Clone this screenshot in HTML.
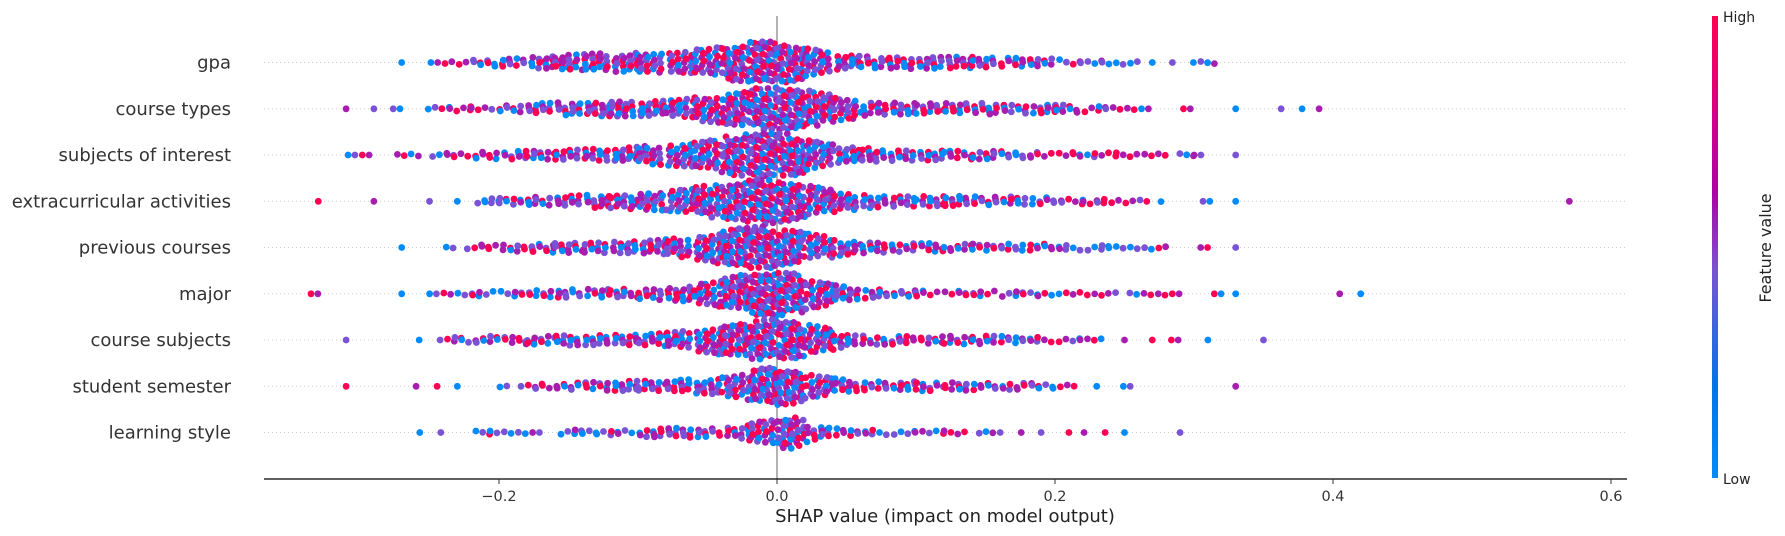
<!DOCTYPE html>
<html><head><meta charset="utf-8"><style>
html,body{margin:0;padding:0;background:#fff;}
svg{display:block;font-family:"DejaVu Sans","Liberation Sans",sans-serif;}
</style></head><body>
<svg id="chart" width="1785" height="536" viewBox="0 0 1785 536" xmlns="http://www.w3.org/2000/svg">
<defs><linearGradient id="cbg" x1="0" y1="1" x2="0" y2="0">
<stop offset="0" stop-color="#008bfb"/><stop offset="0.2" stop-color="#0075ea"/><stop offset="0.45" stop-color="#7a52d6"/><stop offset="0.62" stop-color="#b000a8"/><stop offset="1" stop-color="#ff0052"/></linearGradient></defs>
<g id="grid"></g>
<line x1="777" y1="16" x2="777" y2="479" stroke="#999" stroke-width="1.5"/>
<g id="dots"></g>
<g id="labels"></g>
<line x1="264" y1="479" x2="1627" y2="479" stroke="#000" stroke-width="1.3"/>
<g id="ticks"></g>
<text x="945" y="522" font-size="18" text-anchor="middle" fill="#222">SHAP value (impact on model output)</text>
<rect x="1712" y="16" width="6" height="462" fill="url(#cbg)"/>
<text x="1723" y="22" font-size="14" fill="#222">High</text>
<text x="1723" y="484" font-size="14" fill="#222">Low</text>
<text x="1771" y="248" font-size="16" fill="#222" text-anchor="middle" transform="rotate(-90 1771 248)">Feature value</text>
</svg>
<script>
const features = ["gpa","course types","subjects of interest","extracurricular activities","previous courses","major","course subjects","student semester","learning style"];
const binStart = -0.34;
const binWidth = 0.02;
const xTicks = [-0.2, 0.0, 0.2, 0.4, 0.6];
const xTickLabels = ["\u22120.2","0.0","0.2","0.4","0.6"];
const histGpa = [0,0,0,1,2,4,8,10,14,18,20,20,22,24,30,40,48,42,28,16,12,14,14,14,12,10,10,5,5,4,1,2,3,0,0,0,0,0,0,0,0,0,0,0,0,0];
const histCourseTypes = [0,1,1,2,3,6,4,8,12,14,16,18,18,20,28,38,46,48,36,24,14,14,12,12,12,10,10,10,6,4,2,2,0,1,0,2,1,0,0,0,0,0,0,0,0,0];
const histSubjects = [0,2,2,3,3,6,8,10,10,12,14,16,20,26,32,44,50,46,30,18,14,12,12,10,10,8,6,6,5,5,4,3,2,1,0,0,0,0,0,0,0,0,0,0,0,0];
const histExtra = [1,0,1,0,1,1,6,8,10,12,14,16,20,26,34,42,50,44,30,20,14,12,12,12,10,10,8,6,6,4,3,0,2,1,0,0,0,0,0,0,0,0,0,0,0,1];
const histPrevious = [0,0,0,1,0,3,6,8,10,12,12,14,16,20,30,44,46,40,26,16,12,10,10,8,8,8,8,6,6,4,4,0,2,1,0,0,0,0,0,0,0,0,0,0,0,0];
const histMajor = [2,0,0,1,2,4,6,6,8,10,10,10,12,16,26,38,50,46,30,16,10,8,6,6,6,6,5,4,4,3,4,2,2,1,0,0,0,2,0,0,0,0,0,0,0,0];
const histCourseSubjects = [0,1,0,0,2,6,8,8,10,12,12,12,14,18,28,36,44,44,30,14,10,10,8,10,10,8,6,5,3,1,1,2,1,0,1,0,0,0,0,0,0,0,0,0,0,0];
const histSemester = [0,1,0,0,2,1,0,3,6,8,10,12,12,14,16,26,40,40,24,14,10,10,10,10,8,8,7,3,1,2,0,0,0,1,0,0,0,0,0,0,0,0,0,0,0,0];
const histLearning = [0,0,0,0,2,0,5,4,2,6,5,6,10,12,10,12,26,36,14,8,6,5,4,4,3,2,1,1,2,1,0,1,0,0,0,0,0,0,0,0,0,0,0,0,0,0];
const hists = [histGpa,histCourseTypes,histSubjects,histExtra,histPrevious,histMajor,histCourseSubjects,histSemester,histLearning];

const NS = "http://www.w3.org/2000/svg";
const x0 = 777, pxPerUnit = 278/0.2;
function xScale(v){ return x0 + v*pxPerUnit; }
const rowTop = 62.5, rowStep = 46.25;
function yScale(i){ return rowTop + i*rowStep; }
const palette = ["#ff0052","#008bfb","#a81cb0","#7a52d6"];
const A1 = 0.7548776662, A2 = 0.5698402910, A3 = 0.4142135624;

const grid = document.getElementById('grid');
const dots = document.getElementById('dots');
const labels = document.getElementById('labels');
const ticks = document.getElementById('ticks');

function halfFor(n){ return Math.min(23, 0.46*n); }

features.forEach((f, r) => {
  const y = yScale(r);
  const gl = document.createElementNS(NS,'line');
  
  
  gl.setAttribute('x1', 264); gl.setAttribute('x2', 1627);
  gl.setAttribute('y1', y); gl.setAttribute('y2', y);
  gl.setAttribute('stroke', '#ccc'); gl.setAttribute('stroke-width', '1');
  gl.setAttribute('stroke-dasharray', '1 3');
  grid.appendChild(gl);

  const t = document.createElementNS(NS,'text');
  
  
  t.setAttribute('x', 231); t.setAttribute('y', y + 6);
  t.setAttribute('text-anchor', 'end'); t.setAttribute('font-size', '18');
  t.setAttribute('fill', '#333');
  t.textContent = f;
  labels.appendChild(t);

  const h = hists[r];
  let seq = r*131 + 7;
  h.forEach((n, b) => {
    if (!n) return;
    const lo = binStart + b*binWidth;
    for (let i = 0; i < n; i++) {
      seq++;
      const fx = n === 1 ? 0.5 : (seq*A1) % 1;
      const v = lo + fx*binWidth;
      const nPrev = b > 0 ? h[b-1] : 0, nNext = b < h.length-1 ? h[b+1] : 0;
      const nEff = fx < 0.5 ? n + (nPrev - n)*(0.5 - fx)*0.9 : n + (nNext - n)*(fx - 0.5)*0.9;
      const half = n <= 2 ? 0 : halfFor(Math.max(nEff, 1));
      const u = (seq*A2) % 1;
      const dy = (u*2 - 1)*half;
      const c = document.createElementNS(NS,'circle');
      
      
      c.setAttribute('cx', xScale(v).toFixed(1));
      c.setAttribute('cy', (y + dy).toFixed(1));
      c.setAttribute('r', '3.4');
      c.setAttribute('fill', palette[Math.floor(((seq*A3 + i*0.13) % 1)*4)]);
      dots.appendChild(c);
    }
  });
});

xTicks.forEach((v, i) => {
  const x = xScale(v);
  const tl = document.createElementNS(NS,'line');
  
  
  tl.setAttribute('x1', x); tl.setAttribute('x2', x);
  tl.setAttribute('y1', 479); tl.setAttribute('y2', 484);
  tl.setAttribute('stroke', '#333'); tl.setAttribute('stroke-width', '1');
  ticks.appendChild(tl);
  const tt = document.createElementNS(NS,'text');
  
  
  tt.setAttribute('x', x); tt.setAttribute('y', 501);
  tt.setAttribute('text-anchor', 'middle'); tt.setAttribute('font-size', '14.5');
  tt.setAttribute('fill', '#333');
  tt.textContent = xTickLabels[i];
  ticks.appendChild(tt);
});
</script>
</body></html>
